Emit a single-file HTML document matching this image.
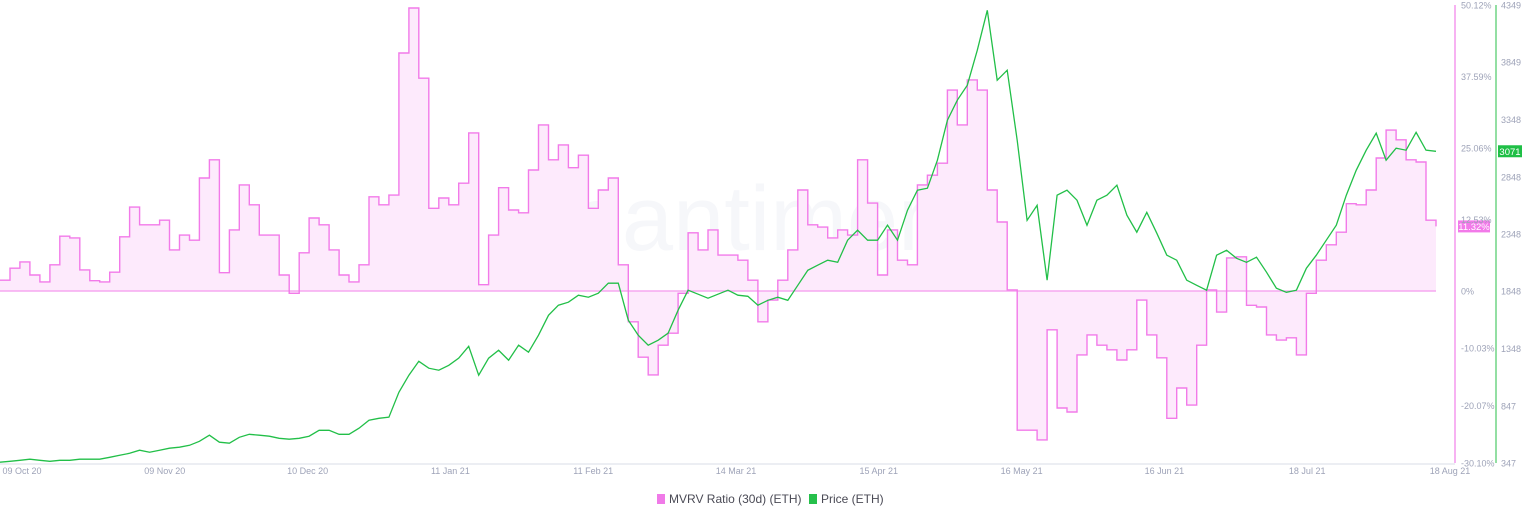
<!DOCTYPE html>
<html><head><meta charset="utf-8"><style>
body{margin:0;width:1536px;height:520px;background:#fff;overflow:hidden;font-family:"Liberation Sans",sans-serif}
svg{position:absolute;left:0;top:0}
</style></head><body>
<svg id="chart" width="1536" height="520">
<text x="760" y="250" font-size="92" fill="#f6f7fa" text-anchor="middle">·santiment</text>
<line x1="0" y1="464" x2="1455" y2="464" stroke="#eceef3" stroke-width="2"/>
<line x1="1455" y1="5" x2="1455" y2="463" stroke="#f7b2f2" stroke-width="2"/>
<line x1="1496" y1="5" x2="1496" y2="463" stroke="#93dfa3" stroke-width="2"/>
<g id="marks"></g>
<g id="labels" font-size="9" fill="#9ea3b8"></g>
<g font-size="12" fill="#4a4a55">
<rect x="657" y="494" width="8" height="10" fill="#f07ae8"/>
<text x="669" y="503">MVRV Ratio (30d) (ETH)</text>
<rect x="809" y="494" width="8" height="10" fill="#26c04b"/>
<text x="821" y="503">Price (ETH)</text>
</g>
</svg>
<script>
const dateLabels=["09 Oct 20","09 Nov 20","10 Dec 20","11 Jan 21","11 Feb 21","14 Mar 21","15 Apr 21","16 May 21","16 Jun 21","18 Jul 21","18 Aug 21"];
const mvrvTicks=[50.12,37.59,25.06,12.53,0,-10.03,-20.07,-30.10];
const priceTicks=[4349,3849,3348,2848,2348,1848,1348,847,347];
const mvrv=[1.9,4.0,5.1,2.8,1.6,4.6,9.6,9.3,3.7,1.8,1.6,3.3,9.5,14.7,11.6,11.6,12.4,7.2,9.8,8.9,19.8,23.0,3.2,10.7,18.6,15.1,9.8,9.8,2.8,-0.4,6.7,12.8,11.6,7.2,2.8,1.6,4.6,16.5,15.1,16.8,41.7,49.6,37.3,14.5,16.3,15.1,18.9,27.7,1.1,9.8,18.1,14.2,13.7,21.2,29.1,23.0,25.6,21.6,23.8,14.5,17.7,19.8,4.6,-5.4,-11.6,-14.7,-9.5,-7.4,-0.4,10.2,7.2,10.7,6.3,6.3,5.4,1.9,-5.4,-1.6,1.9,7.2,17.7,11.6,11.2,9.3,10.7,9.8,23.0,15.4,2.8,10.7,5.4,4.6,18.6,20.3,22.4,35.2,29.1,37.0,35.2,17.7,12.1,0.2,-24.4,-24.4,-26.1,-6.8,-20.5,-21.2,-11.2,-7.7,-9.5,-10.3,-12.1,-10.3,-1.6,-7.7,-11.7,-22.3,-17.0,-20.0,-9.5,0.2,-3.7,5.8,6.0,-2.5,-2.8,-7.7,-8.6,-8.2,-11.2,-0.4,5.4,8.1,10.3,15.3,15.1,17.7,23.3,28.2,26.5,23.0,22.6,12.4,11.32];
const price=[354,362,371,380,371,362,371,371,380,380,380,397,415,432,459,441,459,476,485,502,537,590,529,520,572,598,590,581,563,555,563,581,633,633,598,598,651,721,738,747,965,1114,1236,1175,1158,1201,1263,1367,1114,1263,1332,1245,1376,1315,1464,1638,1726,1752,1813,1796,1831,1918,1918,1595,1464,1376,1420,1481,1682,1857,1822,1787,1822,1857,1813,1804,1726,1769,1796,1769,1900,2031,2075,2119,2101,2294,2381,2294,2294,2425,2294,2556,2731,2748,2993,3342,3517,3648,3954,4303,3692,3779,3167,2468,2599,1944,2687,2731,2643,2425,2643,2687,2774,2512,2364,2538,2355,2163,2119,1944,1900,1857,2163,2206,2136,2101,2145,2014,1874,1839,1857,2049,2163,2294,2425,2687,2905,3080,3229,2993,3098,3080,3237,3080,3071];

const NS="http://www.w3.org/2000/svg";
const X0=0,X1=1436,YT=5,YB=463;
const yM=v=>291-(v*(291-YT)/50.12);
const yP=v=>YB-(v-347)*(YB-YT)/(4349-347);
const xI=(i,n)=>X0+i*(X1-X0)/(n-1);
const marks=document.getElementById('marks'),labels=document.getElementById('labels');
function mk(tag,attrs,parent){const e=document.createElementNS(NS,tag);for(const k in attrs)e.setAttribute(k,attrs[k]);parent.appendChild(e);return e;}

// MVRV step area + line
let pts=[];
mvrv.forEach((v,i)=>{const x=xI(i,mvrv.length),y=yM(v).toFixed(1);
  if(i>0)pts.push(x.toFixed(1)+','+yM(mvrv[i-1]).toFixed(1));
  pts.push(x.toFixed(1)+','+y);});
const area=mk('path',{d:'M'+X0+','+yM(0)+' L'+pts.join(' L')+' L'+X1+','+yM(0)+'Z',fill:'#fdeafc'},marks);


const zl=mk('line',{x1:X0,x2:X1,y1:yM(0),y2:yM(0),stroke:'#f6a8f0','stroke-width':1.5},marks);


const ml=mk('polyline',{points:pts.join(' '),fill:'none',stroke:'#f27ae9','stroke-width':1.4},marks);


const pp=price.map((v,i)=>xI(i,price.length).toFixed(1)+','+yP(v).toFixed(1));
const pl=mk('polyline',{points:pp.join(' '),fill:'none',stroke:'#22bf48','stroke-width':1.3},marks);



dateLabels.forEach((t,i)=>{const e=mk('text',{x:22+i*142.8,y:474,'text-anchor':'middle'},labels);e.textContent=t;

});
mvrvTicks.forEach(v=>{const e=mk('text',{x:1461,y:yM(v)+3.5},labels);e.textContent=(v===0?'0':v.toFixed(2))+'%';

});
priceTicks.forEach(v=>{const e=mk('text',{x:1501,y:yP(v)+3.5},labels);e.textContent=v;

});

const lm=mvrv[mvrv.length-1],lp=price[price.length-1];
const b1=mk('rect',{x:1458,y:yM(lm)-6,width:32,height:12,fill:'#f27ae9'},marks);


const t1=mk('text',{x:1474,y:yM(lm)+3.5,'text-anchor':'middle','font-size':'9.5',fill:'#fff'},marks);t1.textContent=lm.toFixed(2)+'%';


const b2=mk('rect',{x:1498,y:yP(lp)-6,width:24,height:12,fill:'#1fbf46'},marks);


const t2=mk('text',{x:1510,y:yP(lp)+3.5,'text-anchor':'middle','font-size':'9.5',fill:'#fff'},marks);t2.textContent=lp;


</script>
</body></html>
